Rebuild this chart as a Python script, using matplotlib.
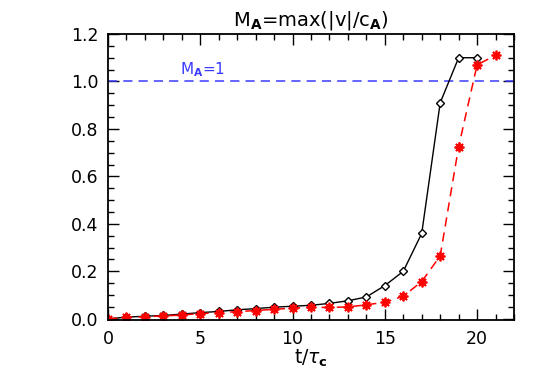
"""
Plot of the Alfvenic Mach number M_A = max(|v|/c_A) versus t/tau_c.
Saves out.png (545x389 px).
"""
import matplotlib

matplotlib.use("Agg")
import matplotlib.pyplot as plt
from matplotlib.ticker import MultipleLocator, FormatStrFormatter

# --- data ---
t_black = list(range(0, 21))
ma_black = [0.0, 0.007, 0.011, 0.014, 0.02, 0.026, 0.031, 0.038, 0.043, 0.049,
            0.053, 0.057, 0.065, 0.076, 0.092, 0.14, 0.20, 0.36, 0.91, 1.10, 1.10]

t_red = list(range(0, 22))
ma_red = [0.0, 0.006, 0.009, 0.012, 0.016, 0.022, 0.026, 0.03, 0.035, 0.04,
          0.045, 0.048, 0.048, 0.05, 0.059, 0.07, 0.095, 0.157, 0.265, 0.725,
          1.07, 1.11]

ma_ref = 1.0


def main():
    plt.rcParams["font.family"] = ["DejaVu Sans"]
    fig = plt.figure(figsize=(5.45, 3.89), dpi=100)
    ax = fig.add_axes([108 / 545, 1 - 320 / 389, 406 / 545, 286 / 389])

    ax.axhline(ma_ref, color="#3a3aff", ls=(0, (6, 4)), lw=1.1)
    ax.text(3.9, 1.05, r"M$_\mathbf{A}$=1", color="#3a3aff", fontsize=11,
            va="center", ha="left")

    ax.plot(t_black, ma_black, color="black", lw=1, marker="D", ms=4.5,
            mfc="white", mec="black", mew=1)
    ax.plot(t_red, ma_red, color="red", lw=1.1, ls=(0, (6, 4)),
            marker=(8, 2, 0), ms=7, mec="red", mew=1.3)

    ax.set_xlim(0, 22)
    ax.set_ylim(-0.005, 1.2)
    ax.xaxis.set_major_locator(MultipleLocator(5))
    ax.xaxis.set_minor_locator(MultipleLocator(1))
    ax.yaxis.set_major_locator(MultipleLocator(0.2))
    ax.yaxis.set_minor_locator(MultipleLocator(0.05))
    ax.yaxis.set_major_formatter(FormatStrFormatter("%.1f"))
    ax.tick_params(which="both", direction="in", top=True, right=True,
                   labelsize=12.5, width=1)
    ax.tick_params(which="major", length=8, pad=7)
    ax.tick_params(which="minor", length=4)
    for s in ax.spines.values():
        s.set_linewidth(1.3)

    ax.set_title(r"M$_\mathbf{A}$=max(|v|/c$_\mathbf{A}$)", fontsize=14, pad=6)
    ax.set_xlabel(r"t/$\tau_\mathbf{c}$", fontsize=13.5, labelpad=0)

    fig.savefig("out.png", dpi=100)


if __name__ == "__main__":
    main()
